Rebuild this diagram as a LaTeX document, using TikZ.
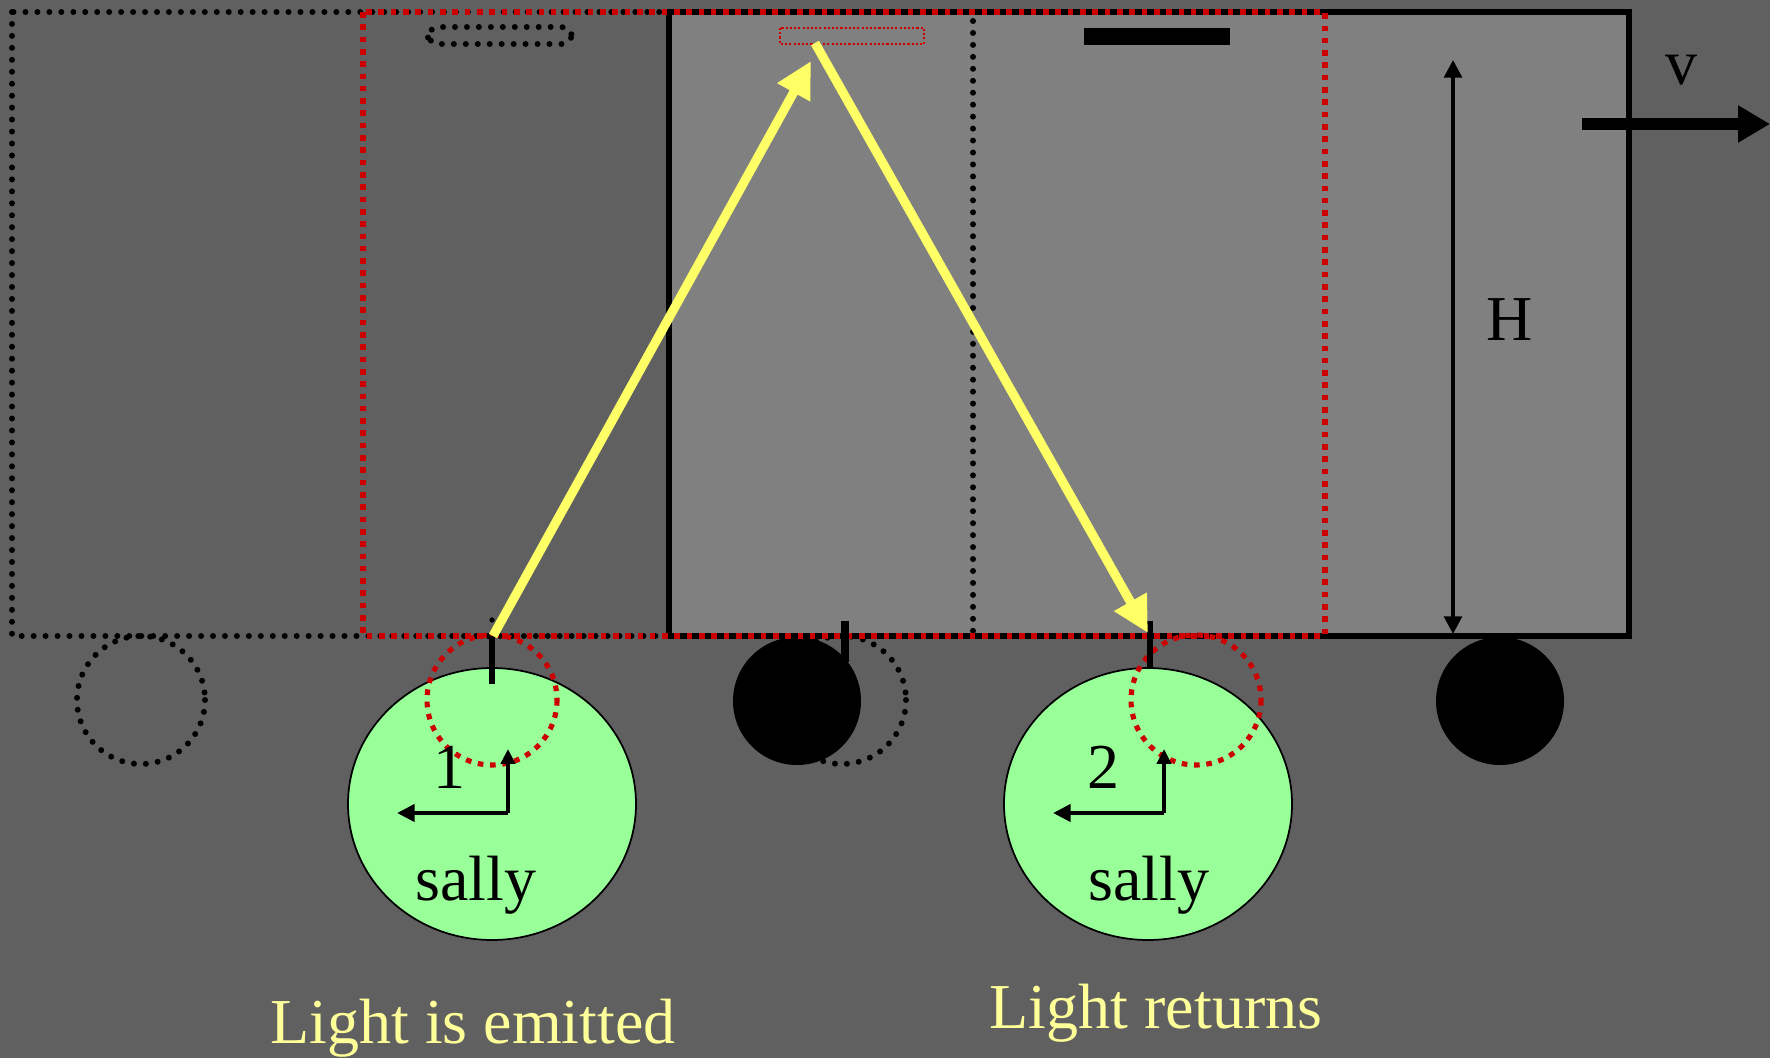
\documentclass[tikz,border=0pt]{standalone}
\usepackage{fontspec}
\setmainfont{Liberation Serif}
\usetikzlibrary{arrows.meta}
\definecolor{bggray}{HTML}{606060}
\definecolor{carfill}{HTML}{808080}
\definecolor{ghostred}{HTML}{CC0000}
\definecolor{sallygreen}{HTML}{99FF99}
\definecolor{lightray}{HTML}{FFFF66}
\definecolor{captiontext}{HTML}{FFFF99}
\begin{document}
\begin{tikzpicture}[x=0.01cm, y=-0.01cm,
  carline/.style={draw=black, line width=1.45pt},
  blackdots/.style={draw=black, line width=1.7pt, line cap=round, dash pattern=on 0pt off 3.4pt},
  reddash/.style={draw=ghostred, line width=1.45pt, dash pattern=on 1.6pt off 1.9pt},
  redthin/.style={draw=ghostred, line width=0.35pt, dash pattern=on 0.6pt off 0.6pt},
  sallybody/.style={draw=black, line width=0.5pt, fill=sallygreen},
  stick/.style={draw=black, line width=1.5pt},
  hand up/.style={draw=black, line width=1pt, -{Triangle[length=4.2pt, width=4pt]}},
  hand left/.style={draw=black, line width=1.4pt, -{Triangle[length=5pt, width=4.8pt]}},
  ray/.style={draw=lightray, line width=2.6pt, -{Triangle[length=10.2pt, width=10pt]}},
  height arrow/.style={draw=black, line width=1.1pt, {Triangle[length=5pt, width=5pt]}-{Triangle[length=5pt, width=5pt]}},
  velocity/.style={draw=black, line width=3.4pt, -{Triangle[length=9.1pt, width=10pt]}},
  label/.style={font=\fontsize{18.2pt}{21pt}\selectfont, text=black, inner sep=0pt},
  caption/.style={font=\fontsize{18.2pt}{21pt}\selectfont, text=captiontext, inner sep=0pt}]

% background
\fill[bggray] (0,0) rectangle (1770,1058);
\useasboundingbox (0,0) rectangle (1770,1058);

% the car where it is now, with its mirror
\draw[carline, fill=carfill] (669,12) rectangle (1629,636);
\fill[black] (1084,28) rectangle (1230,45);

% the car at the earlier position (black dots)
\draw[blackdots] (12,12) rectangle (973,636);
\draw[blackdots, rounded corners=3pt] (428,27) rectangle (572,44);
\draw[blackdots] (141,700) circle[radius=64];
\draw[blackdots] (842,700) circle[radius=64];

% wheels of the car now
\fill[black] (797,701) circle[radius=64];
\fill[black] (1500,701) circle[radius=64];

% the car at the middle position (red dashes)
\draw[reddash] (363,12) rectangle (1325,636);
\draw[redthin] (780,28) rectangle (924,44);

% sally, twice
\draw[sallybody] (492,804) ellipse[x radius=144, y radius=136];
\draw[sallybody] (1148,804) ellipse[x radius=144, y radius=136];

% wheels of the middle car
\draw[reddash] (492,700) circle[radius=65];
\draw[reddash] (1196,700) circle[radius=65];

% source and detector sticks
\draw[stick] (492,636) -- (492,684);
\draw[black, line width=1.5pt, line cap=round, dash pattern=on 0pt off 9.4pt] (492,620) -- (492,656);
\draw[black, line width=2.2pt] (845,621) -- (845,662);
\draw[stick] (1150,621) -- (1150,668);

% clocks
\coordinate (c1o) at (508,813);
\coordinate (c1u) at (508,749);
\coordinate (c1l) at (397,813);
\draw[hand up] (c1o) -- (c1u);
\draw[hand left] (c1o) -- (c1l);
\coordinate (c2o) at (1164,813);
\coordinate (c2u) at (1164,749);
\coordinate (c2l) at (1053,813);
\draw[hand up] (c2o) -- (c2u);
\draw[hand left] (c2o) -- (c2l);

\node[label, anchor=base] (tick1) at (449,788) {1};
\node[label, anchor=base] (tick2) at (1103,788) {2};
\node[label, anchor=base] (name1) at (476,900) {sally};
\node[label, anchor=base] (name2) at (1149,900) {sally};

% light path
\coordinate (emit) at (493,636);
\coordinate (tip1) at (811,61);
\coordinate (mirror) at (815,43);
\coordinate (recv) at (1148,633);
\draw[ray] (emit) -- (tip1);
\draw[ray] (mirror) -- (recv);

% height of the car
\coordinate (htop) at (1453,60);
\coordinate (hbot) at (1453,634);
\draw[height arrow] (htop) -- (hbot);
\node[label] (hlabel) at (1510,320) {H};

% velocity
\coordinate (vstart) at (1582,124);
\coordinate (vend) at (1770,124);
\draw[velocity] (vstart) -- (vend);
\node[label, anchor=base] (vlabel) at (1681,85) {v};

% captions
\node[caption, anchor=base] (cap1) at (473,1043) {Light is emitted};
\node[caption, anchor=base] (cap2) at (1156,1028) {Light returns};
\end{tikzpicture}
\end{document}
